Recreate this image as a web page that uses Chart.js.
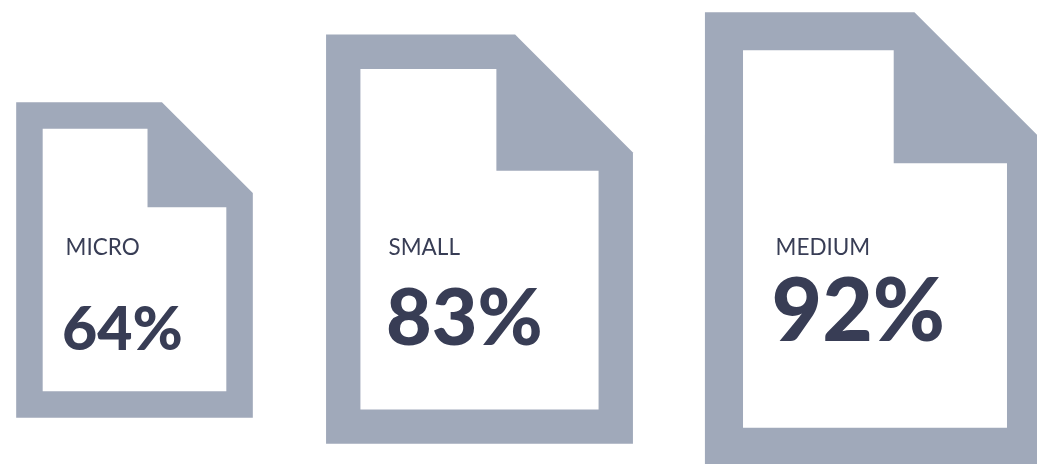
<!DOCTYPE html>
<html>
<head>
<meta charset="utf-8">
<style>
  html, body { margin: 0; padding: 0; background: #fff; overflow: hidden; }
  canvas { display: block; }
</style>
<script src="https://cdn.jsdelivr.net/npm/chart.js@4/dist/chart.umd.min.js"></script>
</head>
<body>
<canvas id="docs" width="1037" height="464"></canvas>
<script>
const categories = ['MICRO', 'SMALL', 'MEDIUM'];
const percents = [64, 83, 92];

// placement of the documents, separate from the values
const docCentre = [134.5, 479.5, 875];
const docLift = [9.4, 4.1, -0.35];
const labelBaseline = [255, 255, 255];
const percentBaseline = [350, 344.5, 340.5];
const labelLeft = [65.5, 388.5, 775.5];
const percentLeft = [62, 386, 771.5];

const fill = '#a0a9ba';
const ink = '#383d55';
const aspect = 0.75;

// document shape: the bar gives the height, everything else is a ratio of it
function drawDoc(ctx, left, top, w, h) {
    const b = w * 0.112;
    ctx.fillStyle = fill;
    ctx.beginPath();
    ctx.moveTo(left, top);
    ctx.lineTo(left + w * 0.616, top);
    ctx.lineTo(left + w, top + w * 0.384);
    ctx.lineTo(left + w, top + h);
    ctx.lineTo(left, top + h);
    ctx.closePath();
    ctx.fill();

    ctx.fillStyle = '#fff';
    ctx.beginPath();
    ctx.moveTo(left + b, top + b);
    ctx.lineTo(left + w * 0.555, top + b);
    ctx.lineTo(left + w * 0.555, top + h * 0.333);
    ctx.lineTo(left + w - b, top + h * 0.333);
    ctx.lineTo(left + w - b, top + h - b);
    ctx.lineTo(left + b, top + h - b);
    ctx.closePath();
    ctx.fill();
}

const docPlugin = {
    id: 'docPlugin',
    afterDatasetsDraw(chart) {
        const ctx = chart.ctx;
        ctx.save();
        chart.getDatasetMeta(0).data.forEach((bar, i) => {
            const h = bar.base - bar.y;
            const w = h * aspect;
            drawDoc(ctx, bar.x - w / 2, bar.y, w, h);

            ctx.fillStyle = ink;
            ctx.textAlign = 'left';
            ctx.textBaseline = 'alphabetic';
            ctx.font = '400 22.5px Lato';
            ctx.fillText(categories[i], labelLeft[i], labelBaseline[i]);
            ctx.font = '900 ' + (percents[i] * 0.95) + 'px Lato';
            ctx.fillText(percents[i] + '%', percentLeft[i], percentBaseline[i]);
        });
        ctx.restore();
    }
};

new Chart(document.getElementById('docs'), {
    type: 'bar',
    data: {
        labels: categories,
        datasets: [{
            label: 'Share',
            data: percents.map((v, i) => ({ x: docCentre[i], y: [docLift[i], docLift[i] + v] })),
            backgroundColor: 'transparent',
            barThickness: 1
        }]
    },
    options: {
        responsive: false,
        animation: false,
        events: [],
        layout: { padding: 0 },
        scales: {
            x: { type: 'linear', min: 0, max: 1037, offset: false, display: false },
            y: { min: 0, max: 94.12, display: false }
        },
        plugins: {
            legend: { display: false },
            tooltip: { enabled: false },
            title: { display: false }
        }
    },
    plugins: [docPlugin]
});
</script>
</body>
</html>
